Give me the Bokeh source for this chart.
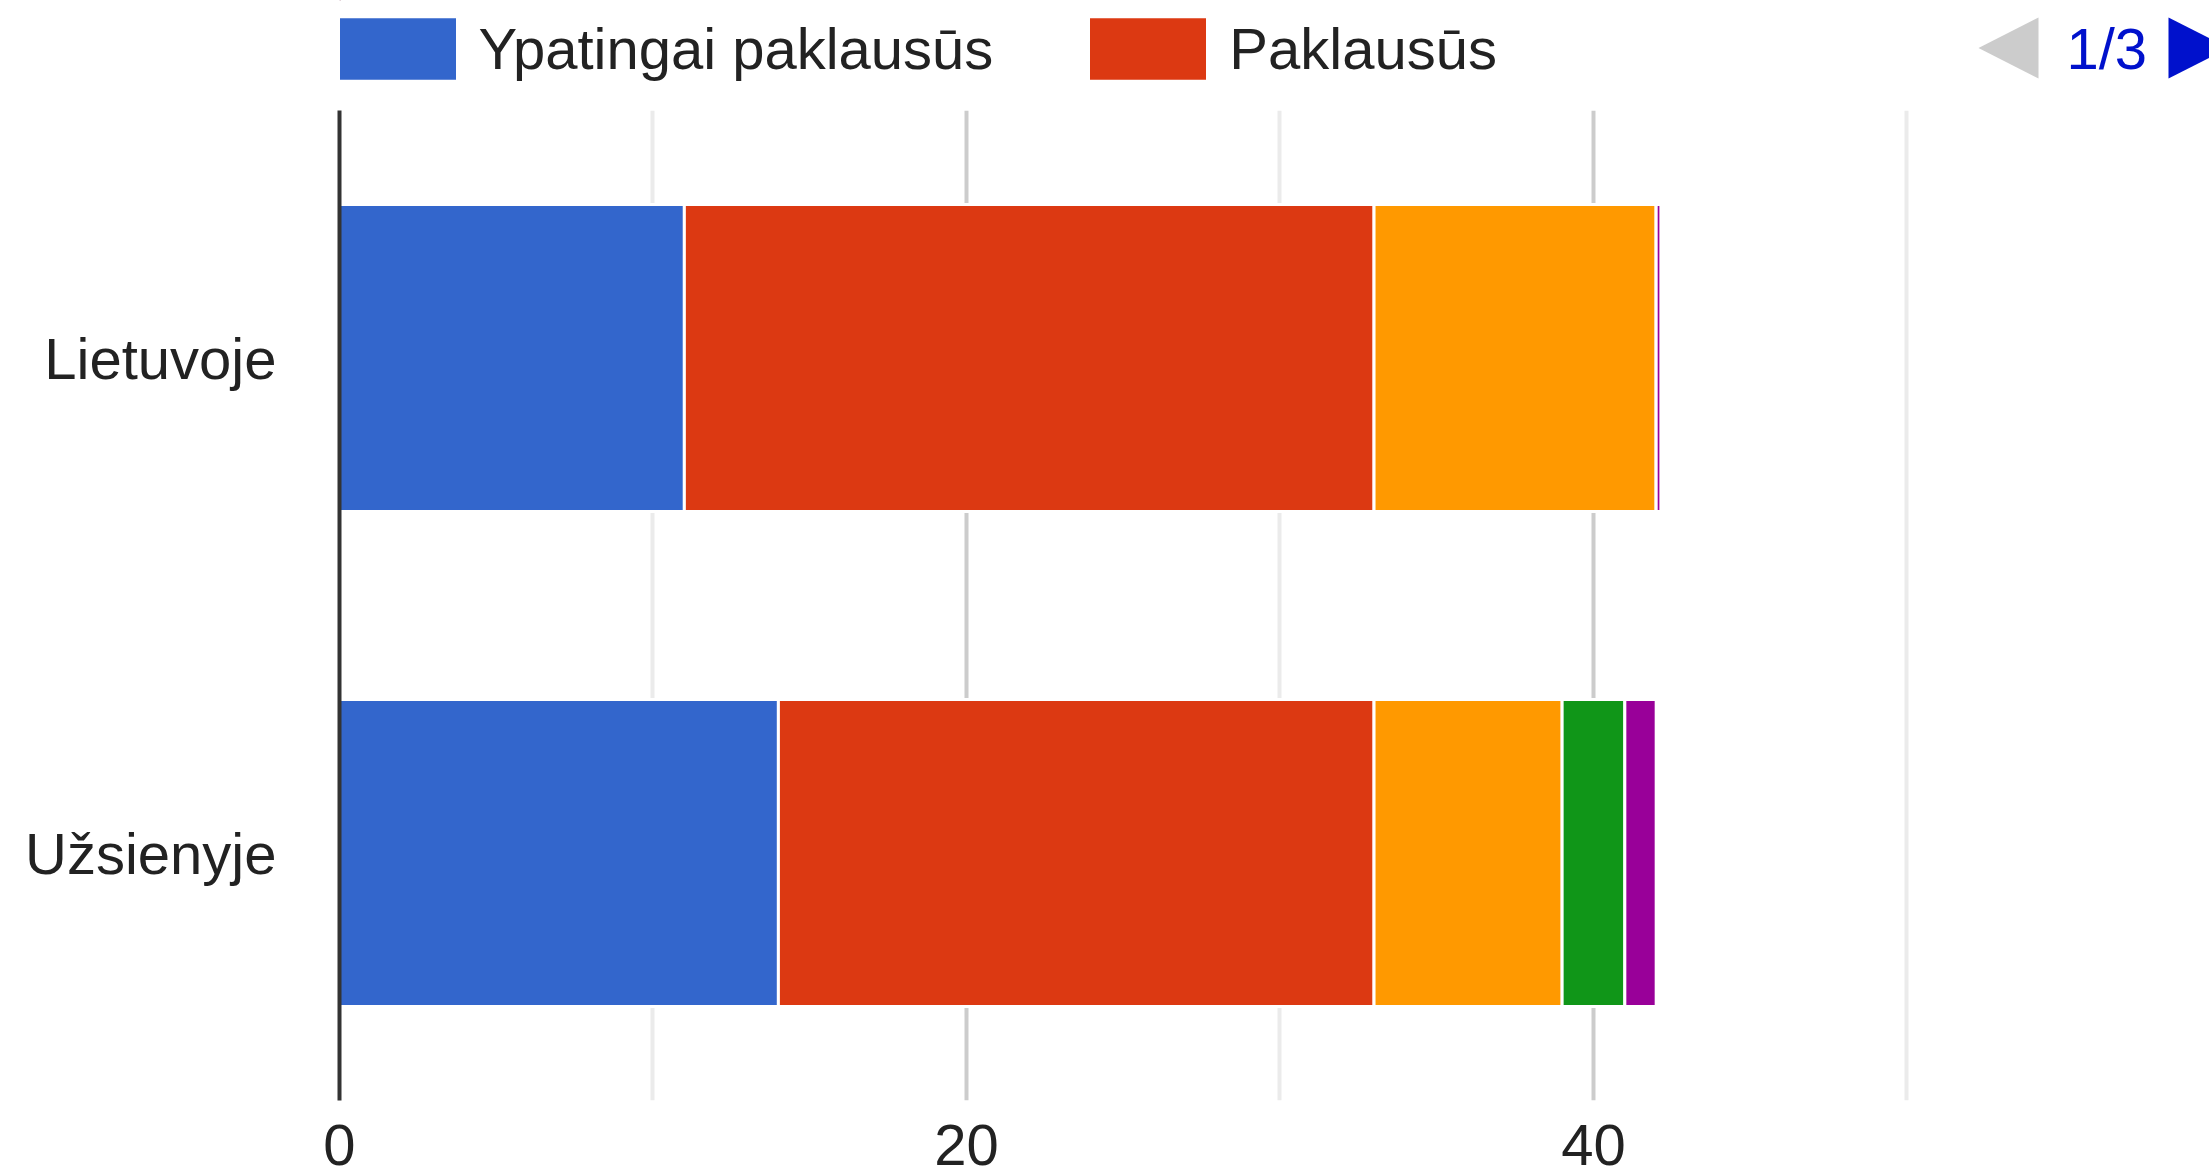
from bokeh.plotting import figure
from bokeh.layouts import column
from bokeh.models import (ColumnDataSource, FactorRange, Range1d, FixedTicker,
                          Legend, LegendItem, Label, PolyAnnotation)
from bokeh.embed import file_html
from bokeh.resources import INLINE

# ---- data ----
categories = ["Lietuvoje", "Užsienyje"]
series_keys = ["s1", "s2", "s3", "s4", "s5"]
legend_labels = ["Ypatingai paklausūs", "Paklausūs"]   # page 1/3 of the legend
s1 = [11, 14]
s2 = [22, 19]
s3 = [9, 6]
s4 = [0, 2]
s5 = [0.15, 1]
colors = ["#3366cc", "#dc3912", "#ff9900", "#109618", "#990099"]
x_ticks = [0, 20, 40]
x_minor_ticks = [10, 30, 50]
pager_text = "1/3"

FONT = "Liberation Sans"
FS = "58px"
W = 2209
LEFT = 339
TOP_H = 110
CHART_H = 1176 - TOP_H

# ---- header strip: legend + pager (frame is aligned with the chart frame) ----
top = figure(width=W, height=TOP_H, x_range=Range1d(LEFT, W), y_range=Range1d(TOP_H, 0),
             output_backend="svg", toolbar_location=None,
             x_axis_type=None, y_axis_type=None,
             min_border_left=LEFT, min_border_right=0,
             min_border_top=0, min_border_bottom=0)
top.outline_line_color = None
top.grid.visible = False

swatches = [top.hbar(y=[-1000], left=[LEFT], right=[LEFT + 1], height=1,
                     fill_color=colors[i], line_alpha=0)
            for i in range(len(legend_labels))]
legend = Legend(items=[LegendItem(label=legend_labels[i], renderers=[swatches[i]])
                       for i in range(len(legend_labels))],
                orientation="horizontal", location=(-14.5, 23.25),
                glyph_width=145, glyph_height=77, label_standoff=9, spacing=82,
                padding=0, margin=0, border_line_color=None, background_fill_alpha=0,
                label_text_font=FONT, label_text_font_size=FS,
                label_text_color="#222222", label_height=77)
top.add_layout(legend)

top.add_layout(PolyAnnotation(xs=[1978, 2038, 2038], ys=[47.5, 17, 78],
                              fill_color="#cccccc", fill_alpha=1, line_alpha=0))
top.add_layout(PolyAnnotation(xs=[2168, 2228, 2168], ys=[17, 47.5, 78],
                              fill_color="#0011cc", fill_alpha=1, line_alpha=0))
top.add_layout(Label(x=2066, y=48, text=pager_text,
                     text_font=FONT, text_font_size=FS, text_color="#0011cc",
                     text_baseline="middle"))

# ---- chart ----
src = ColumnDataSource(dict(cat=categories, s1=s1, s2=s2, s3=s3, s4=s4, s5=s5))

p = figure(width=W, height=CHART_H,
           y_range=FactorRange(factors=categories[::-1], range_padding=0),
           x_range=Range1d(0, 59.65),
           output_backend="svg", toolbar_location=None,
           min_border_left=LEFT, min_border_top=0, min_border_bottom=76,
           min_border_right=0)
p.outline_line_color = None
p.background_fill_color = "white"

p.hbar_stack(series_keys, y="cat", height=0.62, source=src,
             fill_color=colors, line_color="white", line_width=3)

# x axis
p.xaxis.ticker = FixedTicker(ticks=x_ticks, minor_ticks=x_minor_ticks)
p.xaxis.axis_line_color = None
p.xaxis.major_tick_line_color = None
p.xaxis.minor_tick_line_color = None
p.xaxis.major_label_text_font = FONT
p.xaxis.major_label_text_font_size = FS
p.xaxis.major_label_text_color = "#222222"
p.xaxis.major_label_text_line_height = 0.8
p.xaxis.major_label_standoff = 18
p.xgrid.grid_line_color = "#cccccc"
p.xgrid.grid_line_width = 4
p.xgrid.minor_grid_line_color = "#ebebeb"
p.xgrid.minor_grid_line_width = 4
p.ygrid.grid_line_color = None

# y axis
p.yaxis.axis_line_color = "#333333"
p.yaxis.axis_line_width = 4
p.yaxis.major_tick_line_color = None
p.yaxis.minor_tick_line_color = None
p.yaxis.major_label_text_font = FONT
p.yaxis.major_label_text_font_size = FS
p.yaxis.major_label_text_color = "#222222"
p.yaxis.major_label_standoff = 57

layout = column(top, p, spacing=0)
open("out.html", "w").write(file_html(layout, INLINE))
